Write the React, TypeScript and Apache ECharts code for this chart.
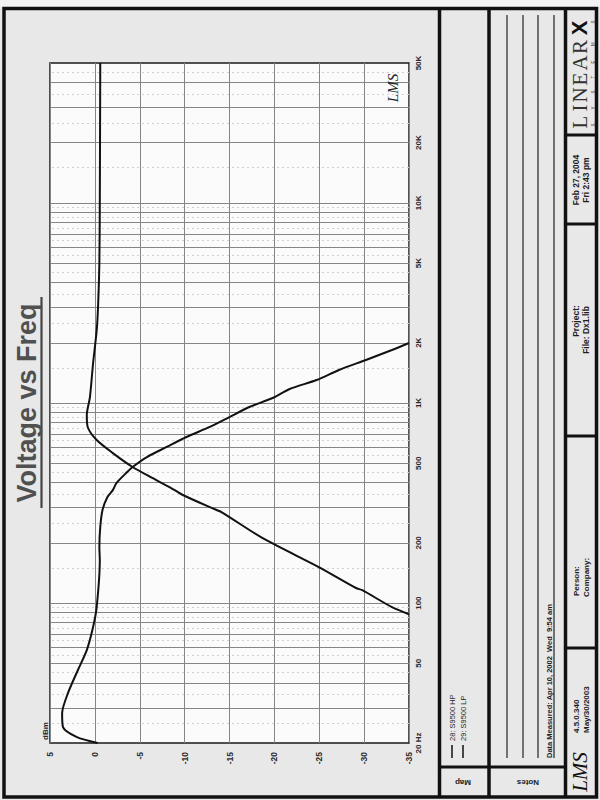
import React, { useEffect, useRef } from "react";
import * as echarts from "echarts";

// ---------- data ----------
const seriesNames = ["28: S9500 HP", "29: S9500 LP"];

const freqTicks = [20, 50, 100, 200, 500, 1000, 2000, 5000, 10000, 20000, 50000];
const freqTickLabels = ["20 Hz", "50", "100", "200", "500", "1K", "2K", "5K", "10K", "20K", "50K"];

const gridMantissas = [1, 2, 3, 4, 5, 6, 7, 8, 9];
const gridDecades = [10, 100, 1000, 10000];

// 28: S9500 HP
const hpFreq = [88, 95.5, 116, 119, 151, 211, 285, 299, 347, 367, 422, 479, 562, 653, 759, 871, 1070, 1580, 2300, 3000, 5000, 10000, 50000];
const hpDb = [-35, -33.1, -29.8, -29.1, -25.0, -18.7, -14.1, -13.0, -9.8, -8.9, -6.4, -4.2, -2.0, -0.2, 0.8, 0.9, 0.55, 0.2, -0.2, -0.35, -0.5, -0.55, -0.6];

// 29: S9500 LP
const lpFreq = [20, 21.4, 24, 28.2, 35.5, 46.2, 58.2, 75.9, 95.5, 164, 191, 240, 292, 339, 367, 398, 452, 479, 537, 603, 676, 759, 851, 955, 1059, 1175, 1303, 1462, 1641, 1841, 1995];
const lpDb = [-0.3, 2.0, 3.55, 3.65, 3.0, 1.9, 0.9, 0.2, -0.2, -0.55, -0.5, -0.6, -0.85, -1.4, -2.0, -2.4, -3.6, -4.2, -5.8, -8.0, -10.2, -12.8, -15.0, -17.2, -19.8, -21.7, -24.7, -27.2, -30.2, -33.1, -35];

// ---------- styles ----------
const FONT = '"Liberation Sans", Arial, Helvetica, sans-serif';
const SERIF = '"Liberation Serif", "DejaVu Serif", serif';

function vtext(text: string, x: number, y: number, size: number, opts: any = {}) {
  const align = opts.align || "center";
  return {
    type: "text",
    x,
    y,
    rotation: opts.rotation !== undefined ? opts.rotation : Math.PI / 2,
    z: 10,
    silent: true,
    style: {
      text,
      fill: opts.fill || "#1e1e1e",
      font: `${opts.style || "normal"} ${opts.weight || "bold"} ${size}px ${opts.family || FONT}`,
      align,
      textAlign: align,
      verticalAlign: "middle",
      textVerticalAlign: "middle",
    },
  };
}

function seg(x1: number, y1: number, x2: number, y2: number, w: number, color = "#111") {
  return {
    type: "line",
    z: 9,
    silent: true,
    shape: { x1, y1, x2, y2 },
    style: { stroke: color, lineWidth: w },
  };
}

export default function App() {
  const ref = useRef<HTMLDivElement>(null);

  useEffect(() => {
    if (!ref.current) return;
    const chart = echarts.init(ref.current, undefined, { renderer: "svg" });

    const majorGrid: number[] = [];
    const minorGrid: number[] = [];
    gridDecades.forEach((d) => {
      gridMantissas.forEach((m) => {
        const v = m * d;
        if (v > 20 && v < 50000) majorGrid.push(v);
        const h = (m + 0.5) * d;
        if (h > 20 && h < 50000) minorGrid.push(h);
      });
    });

    const markData: any[] = [];
    minorGrid.forEach((v) =>
      markData.push({ yAxis: v, lineStyle: { color: "#d0d0d0", width: 1, type: [2, 3] } })
    );
    majorGrid.forEach((v) =>
      markData.push({ yAxis: v, lineStyle: { color: "#858585", width: 1, type: "solid" } })
    );

    const labelOf = (v: number) => {
      const i = freqTicks.findIndex((t) => Math.abs(t - v) / t < 1e-6);
      return i >= 0 ? freqTickLabels[i] : "";
    };

    const letters = [
      ["L", 122], ["I", 108], ["N", 95], ["E", 79], ["A", 63], ["R", 47],
    ];
    const small = [
      ["S", 125], ["Y", 108], ["S", 92], ["T", 77], ["E", 62], ["M", 44], ["S", 22],
    ];

    const graphics: any[] = [
      { type: "rect", z: 1, silent: true, shape: { x: 0, y: 0, width: 600, height: 7 }, style: { fill: "#f3f3f3" } },
      // outer frame
      { type: "rect", z: 9, silent: true, shape: { x: 4, y: 8.5, width: 592.5, height: 788.5 }, style: { fill: "none", stroke: "#111", lineWidth: 3.5 } },
      seg(439.5, 8, 439.5, 797, 3.5),
      seg(489, 8, 489, 797, 3.5),
      seg(565.5, 8, 565.5, 797, 3.5),
      seg(439.5, 767, 565.5, 767, 3),
      seg(565.5, 135, 596.5, 135, 3),
      seg(565.5, 224, 596.5, 224, 3),
      seg(565.5, 436, 596.5, 436, 3),
      seg(565.5, 648, 596.5, 648, 3),
      // notes lines
      seg(507, 15, 507, 758, 1.2, "#222"),
      seg(523, 15, 523, 758, 1.2, "#222"),
      seg(538, 15, 538, 758, 1.2, "#222"),
      seg(554, 15, 554, 758, 1.2, "#222"),
      // title
      vtext("Voltage vs Freq", 27, 403, 27, { fill: "#505050" }),
      seg(41.5, 297, 41.5, 508, 2.2, "#444"),
      vtext("dBm", 45, 731, 8),
      vtext("LMS", 393, 88, 15, { style: "italic", weight: "normal", family: SERIF, fill: "#222" }),
      // legend (Map column)
      seg(452, 745, 452, 758, 1.5),
      seg(463, 745, 463, 758, 1.5),
      vtext(seriesNames[0], 452, 741, 7.5, { align: "left", weight: "normal" }),
      vtext(seriesNames[1], 463, 741, 7.5, { align: "left", weight: "normal" }),
      vtext("Map", 463, 782, 8, { rotation: Math.PI }),
      vtext("Notes", 528, 782, 8, { rotation: Math.PI }),
      // data measured
      vtext("Data Measured: Apr 10, 2002  Wed  9:54 am", 549, 758, 7.5, { align: "left" }),
      // LMS info column
      vtext("Feb 27, 2004", 576, 180, 8.5),
      vtext("Fri 2:43 pm", 586, 180, 8.5),
      vtext("Project:", 576, 321, 8.5),
      vtext("File: Dx1.lib", 586, 330, 8.5),
      vtext("Person:", 576, 596, 8, { align: "left" }),
      vtext("Company:", 586, 597, 8, { align: "left" }),
      vtext("4.5.0.340", 576, 733, 8, { align: "left" }),
      vtext("May/30/2003", 586, 733, 8, { align: "left" }),
      vtext("LMS", 580, 772, 21, { style: "italic", weight: "normal", family: SERIF, fill: "#111" }),
      vtext("X", 579, 28, 22, { weight: "900", fill: "#111" }),
    ];
    letters.forEach(([ch, y]) =>
      graphics.push(vtext(ch as string, 580, y as number, 21, { weight: "normal", family: SERIF, fill: "#333" }))
    );
    small.forEach(([ch, y]) =>
      graphics.push(vtext(ch as string, 593.5, y as number, 4.5, { weight: "normal", fill: "#333" }))
    );

    const option: any = {
      animation: false,
      backgroundColor: "#e8e8e8",
      grid: {
        left: 50,
        right: 191,
        top: 63,
        bottom: 57,
        show: true,
        backgroundColor: "#fbfbfb",
        borderColor: "#1a1a1a",
        borderWidth: 1.5,
        containLabel: false,
      },
      xAxis: {
        type: "value",
        min: -35,
        max: 5,
        interval: 5,
        inverse: true,
        position: "bottom",
        axisLine: { show: false },
        axisTick: { show: false },
        axisLabel: {
          rotate: 90,
          margin: 9,
          fontSize: 8.5,
          fontWeight: "bold",
          color: "#2a2a2a",
          fontFamily: FONT,
          showMinLabel: true,
          showMaxLabel: true,
        },
        splitLine: { show: true, lineStyle: { color: "#858585", width: 1 } },
      },
      yAxis: {
        type: "log",
        logBase: 10,
        min: 20,
        max: 50000,
        position: "right",
        axisLine: { show: false },
        axisTick: { show: false },
        splitLine: { show: false },
        axisLabel: {
          customValues: freqTicks,
          formatter: (v: number) => labelOf(v),
          rotate: 90,
          margin: 5,
          fontSize: 8,
          fontWeight: "bold",
          color: "#2a2a2a",
          fontFamily: FONT,
          showMinLabel: true,
          showMaxLabel: true,
        },
      },
      graphic: { elements: graphics },
      series: [
        {
          name: "grid",
          type: "line",
          data: [[0, 1000]],
          symbol: "none",
          lineStyle: { width: 0, opacity: 0 },
          silent: true,
          z: 1,
          markLine: {
            silent: true,
            z: 1,
            symbol: ["none", "none"],
            label: { show: false },
            emphasis: { disabled: true },
            data: markData,
          },
        },
        {
          name: seriesNames[0],
          type: "line",
          data: hpFreq.map((f, i) => [hpDb[i], f]),
          showSymbol: false,
          symbol: "none",
          smooth: 0.25,
          clip: true,
          z: 3,
          lineStyle: { color: "#111", width: 2 },
        },
        {
          name: seriesNames[1],
          type: "line",
          data: lpFreq.map((f, i) => [lpDb[i], f]),
          showSymbol: false,
          symbol: "none",
          smooth: 0.25,
          clip: true,
          z: 3,
          lineStyle: { color: "#111", width: 2 },
        },
      ],
    };

    chart.setOption(option);
    return () => chart.dispose();
  }, []);

  return (
    <div
      ref={ref}
      style={{ position: "absolute", left: 0, top: 0, width: 600, height: 800 }}
    />
  );
}
